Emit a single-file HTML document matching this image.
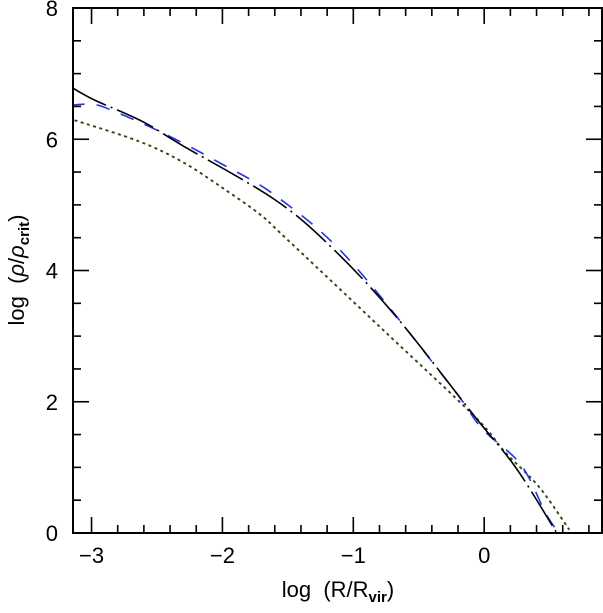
<!DOCTYPE html>
<html><head><meta charset="utf-8"><style>
body{margin:0;background:#fff}
svg text{font-family:"Liberation Sans",sans-serif;fill:#000}
</style></head><body>
<svg id="c" width="603" height="608" xmlns="http://www.w3.org/2000/svg">
<g id="ticks"></g>
<g id="curves"></g>
<rect x="73" y="8" width="529" height="525" fill="none" stroke="#000" stroke-width="2"/>
<g id="labels"></g>
<text x="338" y="597" font-size="22" text-anchor="middle" xml:space="preserve">log  (R/R<tspan font-size="15" dy="5" font-weight="bold">vir</tspan><tspan dy="-5">)</tspan></text>
<text transform="translate(24,270) rotate(-90)" font-size="22" text-anchor="middle" xml:space="preserve">log  (<tspan font-style="italic">ρ</tspan>/<tspan font-style="italic">ρ</tspan><tspan font-size="15" dy="5" font-weight="bold">crit</tspan><tspan dy="-5">)</tspan></text>
</svg>
<script>
const xTicks=[-3,-2,-1,0];
const yTicks=[0,2,4,6,8];
const blackX=[-3.16,-2.98,-2.61,-2.31,-1.60,-1.16,-0.67,-0.07,0.24,0.53,0.57];
const blackY=[6.8,6.6,6.27,5.91,5.08,4.34,3.29,1.77,1.0,0.08,-0.05];
const blueX=[-3.16,-2.98,-2.82,-2.46,-2.02,-1.58,-1.03,-0.25,-0.02,0.28,0.47,0.57];
const blueY=[6.52,6.53,6.42,6.1,5.64,5.12,4.16,2.23,1.6,1.04,0.3,0.0];
const greenX=[-3.13,-2.64,-2.31,-2.0,-1.71,-1.53,-0.77,-0.07,0.16,0.42,0.65];
const greenY=[6.29,5.97,5.66,5.26,4.85,4.52,3.09,1.77,1.23,0.7,0.05];
const X0=-3.1416,X1=0.9,Y0=0,Y1=8,L=73,R=602,T=8,B=533;
const sx=v=>L+(v-X0)/(X1-X0)*(R-L);
const sy=v=>B-(v-Y0)/(Y1-Y0)*(B-T);
const NS="http://www.w3.org/2000/svg";
const tg=document.getElementById('ticks'),lg=document.getElementById('labels'),cg=document.getElementById('curves');
function line(g,x1,y1,x2,y2){const l=document.createElementNS(NS,'line');l.setAttribute('x1',x1);l.setAttribute('y1',y1);l.setAttribute('x2',x2);l.setAttribute('y2',y2);l.setAttribute('stroke','#000');l.setAttribute('stroke-width','1.6');


g.appendChild(l);}
for(let v=-3;v<=0.81;v+=0.2){const x=sx(v);const major=Math.abs(v-Math.round(v))<1e-6;const len=major?16:8;line(tg,x,B,x,B-len);line(tg,x,T,x,T+len);}
for(let v=0.5;v<8;v+=0.5){const y=sy(v);const major=Math.abs(v/2-Math.round(v/2))<1e-6;const len=major?16:8;line(tg,L,y,L+len,y);line(tg,R,y,R-len,y);}
xTicks.forEach(v=>{const t=document.createElementNS(NS,'text');t.setAttribute('x',sx(v));t.setAttribute('y',563);t.setAttribute('font-size','22');t.setAttribute('text-anchor','middle');t.textContent=v<0?'\u2212'+(-v):String(v);


lg.appendChild(t);});
yTicks.forEach(v=>{const t=document.createElementNS(NS,'text');t.setAttribute('x',58);t.setAttribute('y',sy(v)+8);t.setAttribute('font-size','22');t.setAttribute('text-anchor','end');t.textContent=String(v);


lg.appendChild(t);});
function pathD(xs,ys){const p=xs.map((x,i)=>[sx(x),sy(ys[i])]);let d='M'+p[0][0]+','+p[0][1];
for(let i=0;i<p.length-1;i++){const p0=p[i-1]||p[i],p1=p[i],p2=p[i+1],p3=p[i+2]||p2;
const c1=[p1[0]+(p2[0]-p0[0])/6,p1[1]+(p2[1]-p0[1])/6],c2=[p2[0]-(p3[0]-p1[0])/6,p2[1]-(p3[1]-p1[1])/6];
d+=' C'+c1+' '+c2+' '+p2;}return d;}
function curve(xs,ys,color,dash,name,w){const e=document.createElementNS(NS,'path');e.setAttribute('d',pathD(xs,ys));e.setAttribute('fill','none');e.setAttribute('stroke',color);e.setAttribute('stroke-width',w);e.setAttribute('stroke-dasharray',dash);


cg.appendChild(e);}
const clip=document.createElementNS(NS,'clipPath');clip.id='cp';const r=document.createElementNS(NS,'rect');r.setAttribute('x',L);r.setAttribute('y',T);r.setAttribute('width',R-L);r.setAttribute('height',B-T);clip.appendChild(r);document.getElementById('c').appendChild(clip);
cg.setAttribute('clip-path','url(#cp)');
curve(greenX,greenY,'#2a4a10','3 3.5','green-dotted-series','1.9');
curve(blueX,blueY,'#2233ee','14 12','blue-dashed-series','1.6');
curve(blackX,blackY,'#000','40 5 2 5','black-dashdot-series','1.6');
</script>
</body></html>
